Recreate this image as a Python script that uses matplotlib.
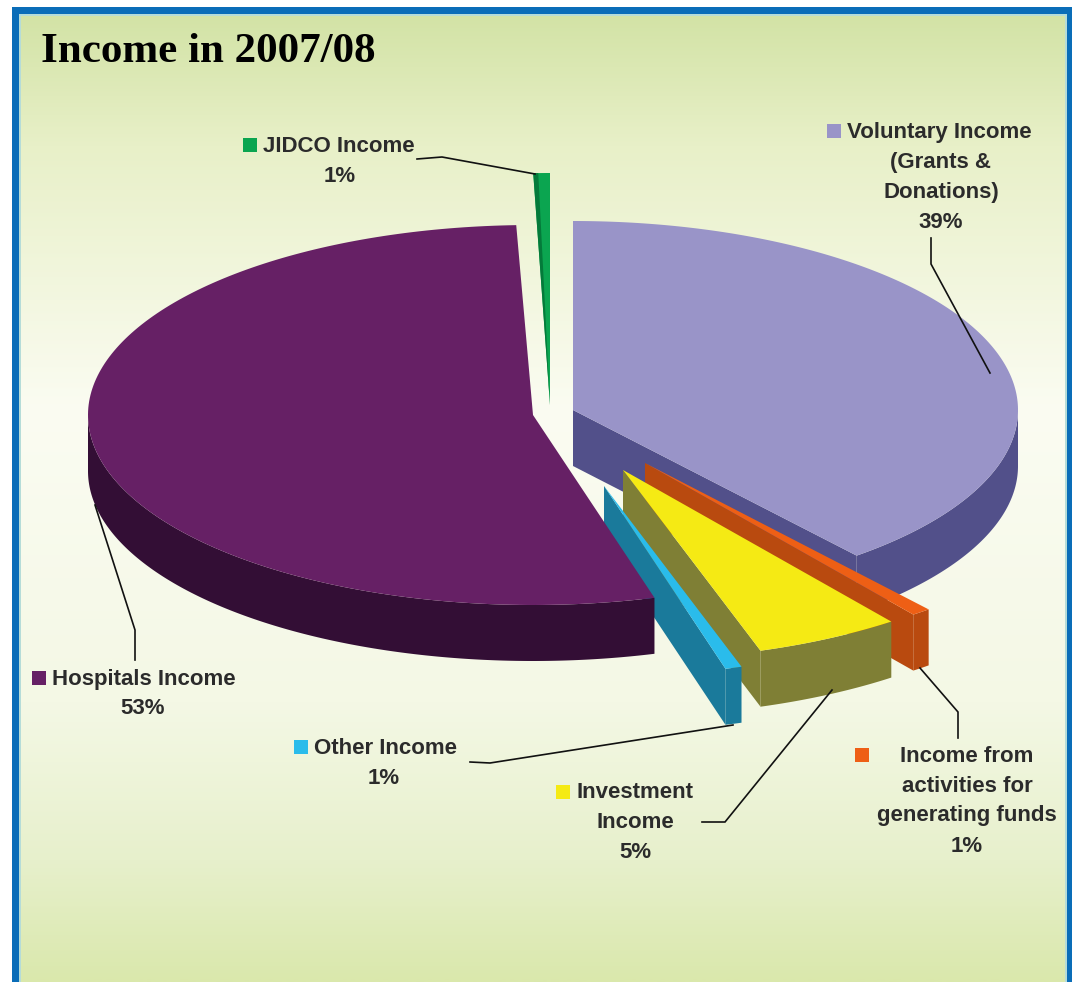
import numpy as np
import matplotlib
matplotlib.use("Agg")
import matplotlib.pyplot as plt
from matplotlib.colors import LinearSegmentedColormap
from matplotlib.patches import Polygon, Rectangle

# --- Data ---
names = ["Voluntary Income", "Income from activities", "Investment Income",
         "Other Income", "Hospitals Income", "JIDCO Income"]
shares = [39.0, 0.7, 5.3, 0.6, 53.8, 0.6]

# --- Slice look ---
top_colors = ["#9994C8", "#EE5F15", "#F5EA14", "#2ABCEB", "#662065", "#0BA550"]
side_colors = ["#52508A", "#B94A0F", "#7F7F35", "#1A7A9B", "#330E35", "#047A3A"]
center_x = [573, 645, 623, 604, 533, 550]
center_y = [410, 463, 470, 486, 415, 405]
radius_x = [445, 445, 445, 445, 445, 445]
radius_y = [189, 190, 190, 190, 190, 232]
depth = 56
draw_order = [5, 0, 1, 2, 3, 4]

# --- Labels ---
label_lines = [
    ["Voluntary Income", "(Grants &", "Donations)", "39%"],
    ["Income from", "activities for", "generating funds", "1%"],
    ["Investment", "Income", "5%"],
    ["Other Income", "1%"],
    ["Hospitals Income", "53%"],
    ["JIDCO Income", "1%"],
]
label_cx = [941, 967, 635, 384, 143, 340]
label_top = [132, 756, 793, 748, 679, 146]
first_x = [847, 900, 576, 314, 52, 263]
key_x = [827, 855, 556, 294, 32, 243]

leaders = [
    ([931, 931, 990], [238, 264, 373]),
    ([920, 958, 958], [668, 712, 738]),
    ([702, 725, 832], [822, 822, 690]),
    ([470, 490, 733], [762, 763, 725]),
    ([95, 135, 135], [505, 630, 660]),
    ([417, 442, 535], [159, 157, 174]),
]

# --- Background stops (y in pixels, colour) ---
bg_stops = [(0, "#D3E3A6"), (130, "#E8F0C8"), (400, "#FBFCF2"),
            (700, "#F4F8E5"), (860, "#E7F0CC"), (982, "#DAE8AC")]


def arc(cx, cy, rx, ry, a1, a2):
    # angles in degrees, clockwise from the top of the pie
    t = np.radians(np.linspace(a1, a2, 200))
    return cx + rx * np.sin(t), cy - ry * np.cos(t)


fig = plt.figure(figsize=(10.77, 9.82), dpi=100, facecolor="white")
ax = fig.add_axes([0, 0, 1, 1])
ax.axis("off")

# frame and gradient
ax.add_patch(Rectangle((12, 7), 1060, 975, color="#0A6DB8", lw=0, zorder=0))
ax.add_patch(Rectangle((19, 14), 1048, 968, color="#B5DCD8", lw=0, zorder=0.5))
cmap = LinearSegmentedColormap.from_list(
    "bg", [(y / 982, c) for y, c in bg_stops])
grad = np.linspace(0, 1, 500).reshape(-1, 1)
ax.imshow(grad, cmap=cmap, extent=(21, 1065, 982, 16), aspect="auto", zorder=1)
ax.set_xlim(0, 1077)
ax.set_ylim(982, 0)

# --- Pie ---
edges = np.cumsum([0] + shares) * 3.6
z = 2
for i in draw_order:
    a1, a2 = edges[i], edges[i + 1]
    cx, cy, rx, ry = center_x[i], center_y[i], radius_x[i], radius_y[i]

    if i == 5:
        # the thin back slice only shows a sliver of its side
        x, y = arc(cx, cy, rx, ry, a1, a2)
        ax.add_patch(Polygon(np.r_[[[cx, cy]], np.c_[x, y]], color=top_colors[i], lw=0, zorder=z))
        x, y = arc(cx, cy, rx, ry, a1, a1 + (a2 - a1) * 0.3)
        ax.add_patch(Polygon(np.r_[[[cx, cy]], np.c_[x, y]], color=side_colors[i], lw=0, zorder=z + 0.1))
        z += 1
        continue

    # cut face along the trailing edge, only seen in the front right
    if a2 < 180:
        ex, ey = arc(cx, cy, rx, ry, a2, a2)
        face = [[cx, cy], [ex[0], ey[0]], [ex[0], ey[0] + depth], [cx, cy + depth]]
        ax.add_patch(Polygon(face, color=side_colors[i], lw=0, zorder=z))

    # outer rim, front half only
    r1, r2 = max(a1, 90), min(a2, 270)
    if r1 < r2:
        x, y = arc(cx, cy, rx, ry, r1, r2)
        rim = np.r_[np.c_[x, y], np.c_[x[::-1], y[::-1] + depth]]
        ax.add_patch(Polygon(rim, color=side_colors[i], lw=0, zorder=z))

    x, y = arc(cx, cy, rx, ry, a1, a2)
    ax.add_patch(Polygon(np.r_[[[cx, cy]], np.c_[x, y]], color=top_colors[i], lw=0, zorder=z + 0.1))
    z += 1

# --- Leader lines ---
for lx, ly in leaders:
    ax.plot(lx, ly, color="#111111", lw=1.2, zorder=20, solid_joinstyle="miter")

# --- Labels ---
font = dict(family="Liberation Sans", fontweight="bold", fontsize=16, color="#2B2B2B", zorder=21)
for i in range(len(names)):
    lines = label_lines[i]
    ax.add_patch(Rectangle((key_x[i], label_top[i] - 8), 14, 14, color=top_colors[i], lw=0, zorder=21))
    ax.text(first_x[i], label_top[i], lines[0], ha="left", va="center", **font)
    for k, line in enumerate(lines[1:], start=1):
        ax.text(label_cx[i], label_top[i] + 30 * k, line, ha="center", va="center", **font)

ax.text(41, 52, "Income in 2007/08", family="Liberation Serif", fontweight="bold",
        fontsize=31, color="black", ha="left", va="center", zorder=21)

fig.savefig("out.png", dpi=100)
